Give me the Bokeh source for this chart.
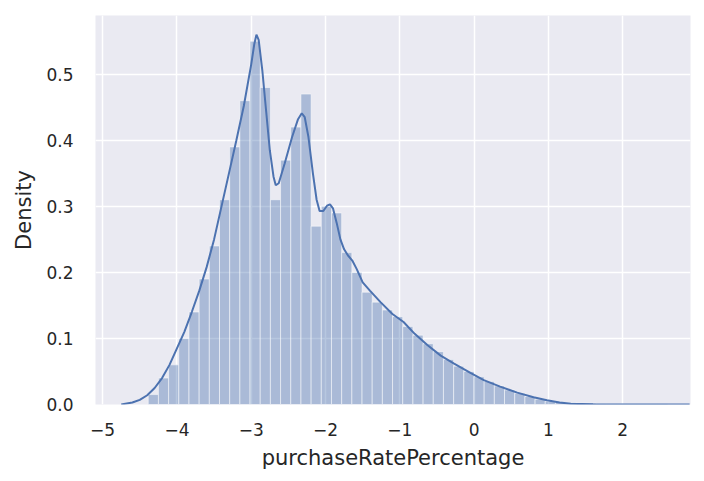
import numpy as np
from bokeh.plotting import figure
from bokeh.models import FixedTicker, PrintfTickFormatter, ColumnDataSource, Range1d
from bokeh.embed import file_html
from bokeh.resources import INLINE

# ---- data ----
bin_start = -4.386
bin_width = 0.137
density = [0.015, 0.040, 0.060, 0.100, 0.140, 0.190, 0.240, 0.310, 0.390, 0.460,
           0.550, 0.480, 0.310, 0.370, 0.420, 0.470, 0.270, 0.300, 0.290, 0.230,
           0.200, 0.170, 0.155, 0.143, 0.133, 0.118, 0.105, 0.092, 0.080, 0.068,
           0.058, 0.050, 0.042, 0.035, 0.028, 0.022, 0.017, 0.012, 0.008, 0.005,
           0.004, 0.003, 0.002, 0.002, 0.0015, 0.001, 0.001, 0.001, 0.001, 0.001,
           0.001]

kde_x = [-4.75, -4.6, -4.5, -4.4, -4.3, -4.2, -4.1, -4.0, -3.9, -3.8, -3.7, -3.6,
         -3.5, -3.4, -3.3, -3.2, -3.1, -3.0, -2.96, -2.93, -2.90, -2.85, -2.80,
         -2.75, -2.70, -2.67, -2.63, -2.55, -2.45, -2.37, -2.32, -2.28, -2.23,
         -2.17, -2.12, -2.08, -2.03, -1.98, -1.94, -1.90, -1.85, -1.80, -1.75,
         -1.70, -1.64, -1.58, -1.50, -1.40, -1.26, -1.10, -0.95, -0.80, -0.63,
         -0.45, -0.27, -0.05, 0.13, 0.35, 0.58, 0.80, 0.98, 1.15, 1.30, 1.60,
         2.0, 2.5, 2.9]
kde_y = [0.000, 0.003, 0.007, 0.014, 0.025, 0.040, 0.060, 0.085, 0.110, 0.140,
         0.172, 0.208, 0.250, 0.300, 0.350, 0.400, 0.452, 0.515, 0.545, 0.560,
         0.552, 0.505, 0.445, 0.385, 0.345, 0.332, 0.335, 0.365, 0.405, 0.432,
         0.441, 0.435, 0.405, 0.350, 0.310, 0.293, 0.293, 0.301, 0.303, 0.297,
         0.275, 0.250, 0.235, 0.226, 0.218, 0.205, 0.185, 0.172, 0.155, 0.137,
         0.125, 0.107, 0.090, 0.074, 0.062, 0.048, 0.037, 0.027, 0.018, 0.011,
         0.0065, 0.003, 0.001, 0.0003, 0.0001, 0.0, 0.0]

x_ticks = [-5, -4, -3, -2, -1, 0, 1, 2]
y_ticks = [0.0, 0.1, 0.2, 0.3, 0.4, 0.5]
x_label = "purchaseRatePercentage"
y_label = "Density"

# ---- build ----
lefts = np.array([bin_start + i * bin_width for i in range(len(density))])
src = ColumnDataSource(dict(left=lefts, right=lefts + bin_width,
                            top=density, bottom=[0] * len(density)))

FONT = "DejaVu Sans"
TXT = "#262626"
BLUE = "#4C72B0"

p = figure(width=700, height=475, output_backend="svg", toolbar_location=None,
           x_range=Range1d(-5.096, 2.912), y_range=Range1d(0, 0.589),
           min_border_left=95, min_border_right=10, min_border_top=15,
           min_border_bottom=71)
p.background_fill_color = "#EAEAF2"
p.border_fill_color = "white"
p.outline_line_color = None

p.quad(left="left", right="right", top="top", bottom="bottom", source=src,
       fill_color=BLUE, fill_alpha=0.4, line_color="white", line_alpha=0.5,
       line_width=1)
p.line(kde_x, kde_y, line_color=BLUE, line_width=2)

for ax in (p.xaxis[0], p.yaxis[0]):
    ax.axis_line_color = None
    ax.major_tick_line_color = None
    ax.minor_tick_line_color = None
    ax.major_tick_in = 0
    ax.major_tick_out = 0
    ax.minor_tick_in = 0
    ax.minor_tick_out = 0
    ax.major_label_text_font = FONT
    ax.major_label_text_font_size = "17px"
    ax.major_label_text_color = TXT
    ax.axis_label_text_font = FONT
    ax.axis_label_text_font_size = "21px"
    ax.axis_label_text_color = TXT
    ax.axis_label_text_font_style = "normal"

p.xaxis.ticker = FixedTicker(ticks=x_ticks)
p.xaxis.major_label_overrides = {t: (("\u2212" + str(abs(t))) if t < 0 else str(t)) for t in x_ticks}
p.xaxis.axis_label = x_label
p.xaxis.major_label_standoff = 18
p.xaxis.axis_label_standoff = 7

p.yaxis.ticker = FixedTicker(ticks=y_ticks)
p.yaxis.formatter = PrintfTickFormatter(format="%.1f")
p.yaxis.axis_label = y_label
p.yaxis.major_label_standoff = 22
p.yaxis.axis_label_standoff = 7

p.xgrid.grid_line_color = "white"
p.ygrid.grid_line_color = "white"
p.xgrid.grid_line_width = 1.5
p.ygrid.grid_line_width = 1.5
p.xgrid.ticker = FixedTicker(ticks=x_ticks)
p.ygrid.ticker = FixedTicker(ticks=y_ticks)

open("out.html", "w").write(file_html(p, INLINE))
